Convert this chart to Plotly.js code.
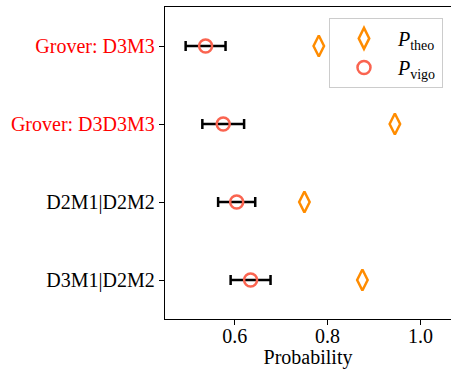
<!DOCTYPE html>
<html>
<head>
<meta charset="utf-8">
<script src="https://cdn.plot.ly/plotly-3.0.1.min.js"></script>
<style>
  html, body { margin: 0; padding: 0; background: #ffffff; }
  #chart { width: 451px; height: 369px; }
</style>
</head>
<body>
<div id="chart"></div>
<script>
// Circuits, top to bottom
const circuits = ["Grover: D3M3", "Grover: D3D3M3", "D2M1|D2M2", "D3M1|D2M2"];
// Which circuit labels are highlighted in red
const highlighted = [true, true, false, false];
// Theoretical success probability
const pTheo = [0.781, 0.945, 0.75, 0.875];
// Measured success probability and its uncertainty
const pVigo = [0.537, 0.575, 0.604, 0.634];
const pVigoErr = [0.043, 0.045, 0.040, 0.043];
// X-axis ticks
const xTicks = [0.6, 0.8, 1.0];
const xTickText = ["0.6", "0.8", "1.0"];

const serif = "Liberation Serif, Times New Roman, serif";

const tickText = circuits.map((c, i) =>
  highlighted[i] ? '<span style="color:#ff0000">' + c + '</span>' : c);

const traces = [
  {
    type: "scatter",
    mode: "markers",
    name: "<i>P</i><sub>theo</sub>",
    x: pTheo,
    y: circuits,
    marker: {
      symbol: "diamond-tall-open",
      size: 15,
      color: "#ff8c00",
      line: { width: 2.5, color: "#ff8c00" }
    }
  },
  {
    type: "scatter",
    mode: "markers",
    name: "<i>P</i><sub>vigo</sub>",
    x: pVigo,
    y: circuits,
    error_x: {
      type: "data",
      array: pVigoErr,
      visible: true,
      color: "#000000",
      thickness: 2.5,
      width: 5
    },
    marker: {
      symbol: "circle-open",
      size: 13,
      color: "#fa6450",
      line: { width: 2.5, color: "#fa6450" }
    }
  }
];

const layout = {
  width: 451,
  height: 369,
  margin: { l: 165, r: 0, t: 7, b: 50 },
  paper_bgcolor: "#ffffff",
  plot_bgcolor: "#ffffff",
  font: { family: serif, size: 20, color: "#000000" },
  showlegend: true,
  legend: {
    x: 0.972,
    y: 0.965,
    xanchor: "right",
    yanchor: "top",
    itemwidth: 58,
    bgcolor: "rgba(255,255,255,0.8)",
    bordercolor: "#cccccc",
    borderwidth: 1,
    font: { family: serif, size: 20, color: "#000000" }
  },
  xaxis: {
    range: [0.4495, 1.066],
    tickvals: xTicks,
    ticktext: xTickText,
    ticks: "outside",
    ticklen: 5,
    tickwidth: 1,
    tickcolor: "#000000",
    ticklabelstandoff: -6,
    showline: true,
    linecolor: "#000000",
    linewidth: 1.2,
    mirror: true,
    showgrid: false,
    zeroline: false,
    tickfont: { family: serif, size: 20, color: "#000000" },
    title: { text: "Probability", standoff: 6, font: { family: serif, size: 20, color: "#000000" } }
  },
  yaxis: {
    type: "category",
    categoryorder: "array",
    categoryarray: circuits,
    range: [3.5, -0.5],
    tickvals: circuits,
    ticktext: tickText,
    ticks: "outside",
    ticklen: 5,
    tickwidth: 1,
    tickcolor: "#000000",
    showline: true,
    linecolor: "#000000",
    linewidth: 1.2,
    mirror: true,
    showgrid: false,
    zeroline: false,
    tickfont: { family: serif, size: 20, color: "#000000" }
  }
};

Plotly.newPlot("chart", traces, layout, { displayModeBar: false, staticPlot: true });
</script>
</body>
</html>
